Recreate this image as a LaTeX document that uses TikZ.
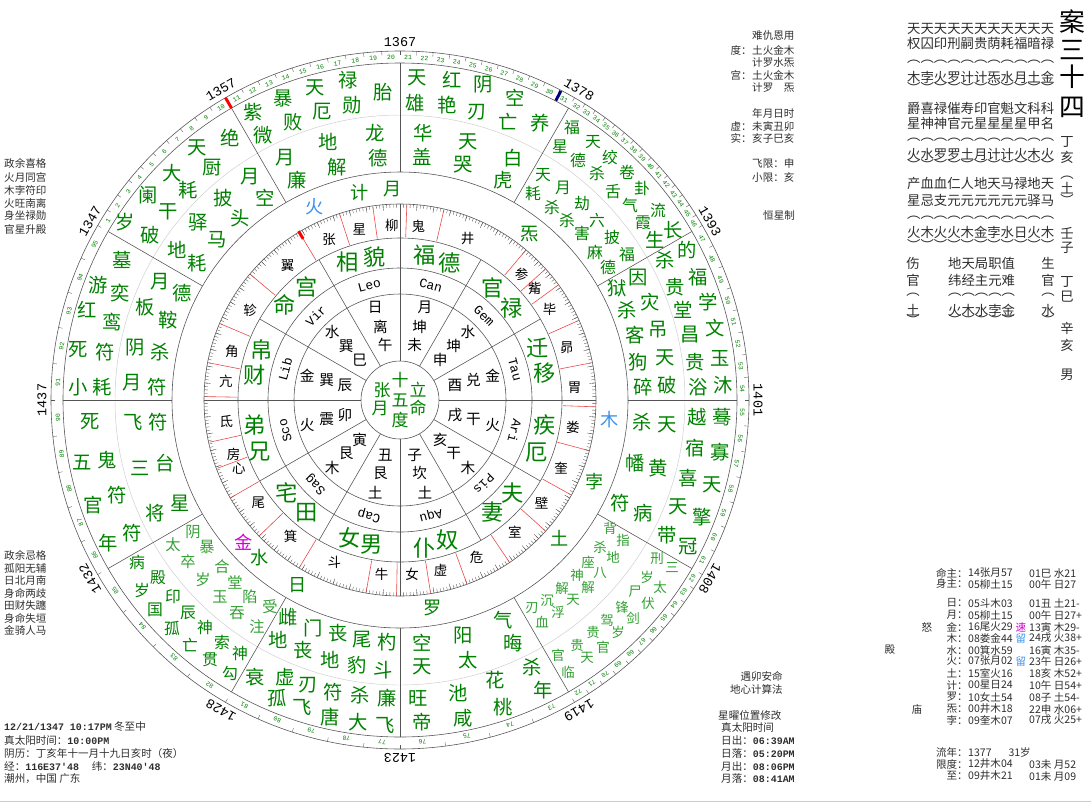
\documentclass[tikz,border=0pt]{standalone}
\usepackage{fontspec}
\setmainfont{Noto Sans CJK SC}
\newfontfamily\monofont{Liberation Mono}
\newcommand\numfont{\monofont\bfseries\fontsize{8.5}{8.5}\selectfont}

\definecolor{zgreen}{RGB}{0,128,0}
\definecolor{zlight}{RGB}{50,160,50}
\definecolor{zblue}{RGB}{60,145,235}
\definecolor{zmag}{RGB}{215,0,215}
\definecolor{zred}{RGB}{235,70,70}
\definecolor{zgrid}{RGB}{85,85,85}
\definecolor{zpale}{RGB}{205,205,205}
\definecolor{ztext}{RGB}{45,45,45}

\tikzset{
  ring/.style={draw=zgrid, line width=0.5pt},
  cjk/.style={inner sep=0pt, font=\fontsize{#1}{#1}\selectfont},
  big/.style={cjk=16.5, text=zgreen},
  mid/.style={cjk=13.5, text=zgreen},
  lite/.style={cjk=13, text=zlight},
  sml/.style={cjk=11.5, text=zlight},
  palace/.style={cjk=19, text=zgreen},
  gua/.style={cjk=12.5, text=black},
  xiu/.style={cjk=11.5, text=black},
  planet/.style={cjk=15.5, text=zgreen},
  sign/.style={inner sep=0pt, font=\monofont\fontsize{11}{11}\selectfont},
  age/.style={inner sep=0pt, text=zgreen, font=\monofont\fontsize{5.5}{5.5}\selectfont},
  year/.style={inner sep=0pt, font=\monofont\fontsize{11.5}{11.5}\selectfont},
  note/.style={cjk=9, text=ztext, anchor=west},
  panel/.style={cjk=11.4, text=ztext, anchor=west},
  tbl/.style={cjk=9, text=ztext},
}

\begin{document}
\begin{tikzpicture}[x=0.03cm, y=-0.03cm]
  \useasboundingbox (0,0) rectangle (1091,803);
  \draw[zpale] (0,801) -- (1091,801);

  \begin{scope}[shift={(400,400)}, y=0.03cm]
    \foreach \r in {39,106,132,162,196,228,337,349}
      \draw[ring] (0,0) circle (\r);
    \draw[zpale, line width=0.4pt] (0,0) circle (285);
    \foreach \a in {0,30,...,330}{
      \draw[ring] (\a:39) -- (\a:162);
      \draw[ring] (\a:228) -- (\a:337);
    }
    \foreach \a in {0,90,180,270}
      \draw[ring] (\a:162) -- (\a:196);
    \foreach \a in {0,...,359}
      \draw[zgrid, line width=0.3pt] (\a:196) -- (\a:192.5);
    \foreach \a in {0,5,...,355}
      \draw[zgrid, line width=0.3pt] (\a:196) -- (\a:190);

    \foreach \a in {179,169,157,140,121,108,98,88,77,50,42,36,24,11,-2,-15,-29,-42,-56,-70,-81,-91,-100,-121,-136,-150,-159.5,-167.5}
      \draw[zred, line width=0.5pt] (\a:163) -- (\a:195);
    \draw[red, line width=2.5pt] (121:188) -- (121:197);

    \foreach \t/\a [count=\n] in {亢/174,角/164,轸/149,翼/130,张/113.9,星/103.4,柳/92.7,鬼/84,井/67.3,参/46,觜/39.6,毕/31.3,昴/17.5,胃/4,娄/-9,奎/-23,壁/-36,室/-49,危/-64,虚/-76.6,女/-86,牛/-96,斗/-112,箕/-128.7,尾/-144,心/-157,房/-162,氐/-173}
      \node[xiu] (xiu\n) at (\a:175) {\t};

    \foreach \a/\o/\m/\i [count=\n] in {105/日/离/午,75/月/坤/未,45/水/坤/申,15/金/兑/酉,-15/火/干/戌,-45/木/干/亥,-75/土/坎/子,-105/土/艮/丑,-135/木/艮/寅,-165/火/震/卯,165/金/巽/辰,135/水/巽/巳}{
      \node[gua] (go\n) at (\a:96) {\o};
      \node[gua] (gm\n) at (\a:76) {\m};
      \node[gua] (gi\n) at (\a:57) {\i};
    }

    \foreach \a/\t [count=\n] in {105/Leo,75/Can,45/Gem,15/Tau,-15/Ari,-45/Pis,-75/Aqu,-105/Cap,-135/Sag,-165/Sco,165/Lib,135/Vir}
      \node[sign, rotate=\a-90] (sg\n) at (\a:119) {\t};

    \foreach \t/\a/\c [count=\n] in {火/113.8/zblue,计/101/zgreen,月/92/zgreen,炁/52/zgreen,木/-5.4/zblue,孛/-22.8/zgreen,土/-41/zgreen,罗/-81/zgreen,日/-118.9/zgreen,水/-131.7/zgreen,金/-137.7/zmag}
      \node[planet, text=\c] (pl\n) at (\a:211) {\t};

    \foreach \s/\e/\f/\k in {150/120/1/10,120/90/11/10,90/60/21/11,60/30/32/15,30/0/47/8,0/-30/55/7,-30/-60/62/11,-60/-90/73/4,-90/-120/77/5,-120/-150/82/4,-150/-180/86/5,180/150/91/5}{
      \foreach \i in {1,...,\k}{
        \pgfmathsetmacro\a{\s-(\i-0.5)*(\s-\e)/\k}
        \pgfmathsetmacro\b{\s-\i*(\s-\e)/\k}
        \pgfmathtruncatemacro\m{\f+\i-1}
        \node[age, rotate=\a-90] (age\m) at (\a:342.5) {\m};
        \draw[zgrid, line width=0.3pt] (\b:345) -- (\b:349);
      }
    }
    \draw[red, line width=2.5pt] (120:337) -- (120:349);
    \draw[blue!50!black, line width=2.5pt] (62.5:337.5) -- (62.5:348.5);

    \foreach \a/\t [count=\n] in {150/1347,120/1357,90/1367,60/1378,30/1393,0/1401,-30/1408,-60/1419,-90/1423,-120/1428,-150/1432,180/1437}
      \node[year, rotate=\a-90] (yr\n) at (\a:358) {\t};
  \end{scope}

  \foreach \x/\y/\t [count=\n] in {382/390/张,380/408/月,400/380/十,400/400/五,400/420/度,418/390/立,418/408/命}
    \node[cjk=14.5, text=zgreen] (c\n) at (\x,\y) {\t};

  \foreach \x/\y/\t [count=\n] in {285/305/命,307/287/宫,348/262/相,375/257/貌,425/255/福,450/263/德,493/288/官,512/308/禄,538/348/迁,545/373/移,545/425/疾,537/453/厄,513/493/夫,493/512/妻,448/540/奴,425/548/仆,372/545/男,350/538/女,307/513/田,287/493/宅,260/452/兄,255/425/弟,255/375/财,262/350/帛}
    \node[palace] (gong\n) at (\x,\y) {\t};

  \foreach \x/\y/\t [count=\n] in {230/138/绝,197/148/天,212/168/厨,172/173/大,188/190/耗,250/177/月,265/198/空,148/195/阑,168/212/干,223/198/披,240/218/头,125/222/岁,150/235/破,198/222/驿,217/240/马,177/250/地,197/263/耗,
    253/112/紫,263/135/微,283/98/暴,293/122/败,315/88/天,322/112/厄,348/80/禄,352/105/勋,383/92/胎,285/158/月,297/180/廉,328/142/地,337/167/解,375/133/龙,378/158/德,
    122/260/墓,98/285/游,120/293/奕,160/282/月,182/293/德,87/310/红,112/322/鸾,145/307/板,168/320/鞍,78/350/死,105/352/符,135/348/阴,160/352/杀,78/387/小,102/387/耗,132/383/月,157/387/符,
    90/422/死,133/422/飞,158/422/符,82/463/五,107/460/鬼,140/468/三,165/463/台,93/505/官,117/495/符,155/513/将,180/503/星,108/543/年,132/533/符,
    288/617/雌,313/628/门,338/633/丧,362/640/尾,387/642/杓,278/640/地,303/650/丧,330/660/地,357/665/豹,383/670/斗,255/677/衰,285/677/虚,308/685/刃,333/692/符,360/695/杀,387/698/廉,277/698/孤,302/707/飞,330/717/唐,358/722/大,385/725/飞,
    422/643/空,422/667/天,463/635/阳,468/660/太,503/620/气,513/643/晦,418/698/旺,422/722/帝,458/693/池,463/718/咸,495/680/花,503/707/桃,532/667/杀,543/690/年,
    642/422/杀,667/425/天,697/417/越,722/417/蓦,635/463/幡,658/468/黄,695/448/宿,720/452/寡,688/478/喜,712/485/天,620/503/符,643/513/病,678/507/天,702/517/擎,667/535/带,688/547/冠,
    417/78/天,415/103/雄,452/80/红,447/105/艳,483/85/阴,477/112/刃,515/98/空,508/122/亡,540/123/养,423/133/华,422/157/盖,468/142/天,463/165/哭,513/158/白,503/180/虎,
    665/260/杀,687/250/的,675/287/贵,698/277/福,683/310/堂,708/302/学,690/335/昌,715/328/文,695/362/贵,720/358/玉,698/387/浴,723/385/沐,617/288/狱,638/278/因,627/310/杀,650/302/灾,635/335/客,658/330/吊,638/362/狗,665/358/天,643/387/碎,667/385/破,
    673/230/长,655/240/生}
    \node[big] (sha\n) at (\x,\y) {\t};

  \foreach \x/\y/\t [count=\n] in {137/562/病,142/590/岁,158/578/殿,155/610/国,173/597/印,172/628/孤,188/613/辰,190/645/亡,205/627/神,210/660/贯,222/642/索,230/673/勾,240/653/神,
    572/128/福,560/147/星,593/142/天,578/160/德,610/157/绞,597/173/杀,627/172/卷,613/192/舌,642/188/卦,630/205/气,658/210/流,643/223/霞,543/175/天,533/193/耗,563/188/月,552/207/杀,582/203/劫,567/220/杀,597/220/六,582/233/害,612/237/披,595/252/麻,627/255/福,608/267/德}
    \node[mid] (shm\n) at (\x,\y) {\t};

  \foreach \x/\y/\t [count=\n] in {173/545/太,193/532/阴,188/562/卒,207/547/暴,203/580/岁,222/567/合,220/597/玉,235/582/堂,237/613/吞,250/597/陷,257/627/注,270/607/受}
    \node[lite] (shl\n) at (\x,\y) {\t};

  \foreach \x/\y/\t [count=\n] in {610/528/背,623/540/指,600/547/杀,613/557/地,588/562/座,600/573/八,577/575/神,588/587/解,562/588/解,573/600/天,547/600/沉,558/612/浮,532/608/刃,542/622/血,657/558/刑,672/568/三,647/577/岁,660/587/太,635/592/尸,648/603/伏,622/607/锋,633/618/剑,607/620/驾,618/632/岁,593/632/贵,603/647/官,577/645/贵,587/658/天,558/655/官,568/672/临}
    \node[sml] (shs\n) at (\x,\y) {\t};

  \foreach \y/\t [count=\n] in {163/政余喜格,177/火月同宫,190/木孛符印,203/火旺南离,216/身坐禄勋,229/官星升殿,555/政余忌格,568/孤阳无辅,580/日北月南,593/身命两歧,605/田财失躔,618/身命失垣,630/金骑人马}
    \node[note] (ge\n) at (4,\y) {\t};

  \foreach \y/\t [count=\n] in {36/难仇恩用,50/土火金木,63/计罗水炁,75/土火金木,88/计罗\hspace{1em}炁,113/年月日时,126/未寅丑卯,138/亥子巳亥,163/飞限：申,177/小限：亥}
    \node[note] (du\n) at (752,\y) {\t};
  \foreach \y/\t [count=\n] in {50/度：,75/宫：,126/虚：,138/实：}
    \node[note, anchor=east] (dl\n) at (752,\y) {\t};
  \node[note] (hx) at (763,215) {恒星制};

  \foreach \y/\t [count=\n] in {29/天天天天天天天天天天天,43/权囚印刑嗣贵荫耗福暗禄,62/︵︵︵︵︵︵︵︵︵︵︵,77/木孛火罗计计炁水月土金,88/︶︶︶︶︶︶︶︶︶︶︶,108/爵喜禄催寿印官魁文科科,123/星神神官元星星星星甲名,140/︵︵︵︵︵︵︵︵︵︵︵,154/火水罗罗土月计计火木火,165/︶︶︶︶︶︶︶︶︶︶︶,183/产血血仁人地天马禄地天,200/星忌支元元元元元元驿马,218/︵︵︵︵︵︵︵︵︵︵︵,232/火木火火木金孛水日火木,245/︶︶︶︶︶︶︶︶︶︶︶}
    \node[panel] (pa\n) at (907,\y) {\t};
  \foreach \y/\t [count=\n] in {263/地天局职值,280/纬经主元难,295/︵︵︵︵︵,310/火木水孛金,320/︶︶︶︶︶}
    \node[panel] (pb\n) at (948,\y) {\t};
  \foreach \y/\a/\b [count=\n] in {263/伤/生,280/官/官,295/︵/︵,310/土/水,320/︶/︶}{
    \node[panel, anchor=center] (pl\n) at (913,\y) {\a};
    \node[panel, anchor=center] (pr\n) at (1048,\y) {\b};
  }
  \foreach \y/\t [count=\n] in {22/案,50/三,77/十,107/四}
    \node[cjk=22, text=black] (an\n) at (1072,\y) {\t};
  \foreach \y/\t [count=\n] in {142/丁,157/亥,178/︵,188/土,200/︶,233/壬,248/子,282/丁,297/巳,328/辛,345/亥,375/男}
    \node[panel, anchor=center] (gz\n) at (1067,\y) {\t};

  \foreach \y/\l/\u/\v [count=\n] in {573/命主：/14张月57/01巳 水21,584/身主：/05柳土15/00午 日27,603/日：/05斗木03/01丑 土21-,615/月：/05柳土15/00午 日27+,627/金：/16尾火29/13寅 木29-,638/木：/08娄金44/24戌 火38+,650/水：/00箕水59/16寅 木35-,661/火：/07张月02/23午 日26+,673/土：/15室火16/18亥 木52+,685/计：/00星日24/10午 日54+,697/罗：/10女土54/08子 土54-,709/炁：/00井木18/22申 水06+,720/孛：/09奎木07/07戌 火25+,764/限度：/12井木04/03未 月52,776/至：/09井木21/01未 月09}{
    \node[tbl, anchor=east] (tl\n) at (968,\y) {\l};
    \node[tbl, anchor=west] (tu\n) at (968,\y) {\u};
    \node[tbl, anchor=west] (tv\n) at (1029,\y) {\v};
  }
  \node[tbl, anchor=east] (ln) at (968,752) {流年：};
  \node[tbl, anchor=west] (lv) at (968,752) {1377\hspace{1.6em}31岁};
  \node[tbl, text=zmag] (su) at (1021,627) {速};
  \node[tbl, text=zblue] (liu1) at (1021,638) {留};
  \node[tbl, text=zblue] (liu2) at (1021,661) {留};
  \node[tbl] (nu) at (927,627) {怒};
  \node[tbl] (dian) at (890,650) {殿};
  \node[tbl] (miao) at (917,709) {庙};

  \node[note, anchor=east] (yu) at (783,676) {遇卯安命};
  \node[note, anchor=east] (dx) at (783,689) {地心计算法};
  \node[note] (xy) at (718,715) {星曜位置修改};
  \node[note] (zt) at (721,727) {真太阳时间};
  \foreach \y/\l/\t [count=\n] in {740/日出：/06:39AM,753/日落：/05:20PM,766/月出：/08:06PM,778/月落：/08:41AM}
    \node[note] (rc\n) at (721,\y) {\l{\numfont\t}};

  \node[note] (b1) at (4,727) {{\numfont 12/21/1347 10:17PM} 冬至中};
  \node[note] (b2) at (4,740) {真太阳时间：{\numfont 10:00PM}};
  \node[note] (b3) at (4,753) {阴历：丁亥年十一月十九日亥时（夜）};
  \node[note] (b4) at (4,766) {经：{\numfont 116E37'48}\hspace{1.2em}纬：{\numfont 23N40'48}};
  \node[note] (b5) at (4,779) {潮州，中国 广东};
\end{tikzpicture}
\end{document}
